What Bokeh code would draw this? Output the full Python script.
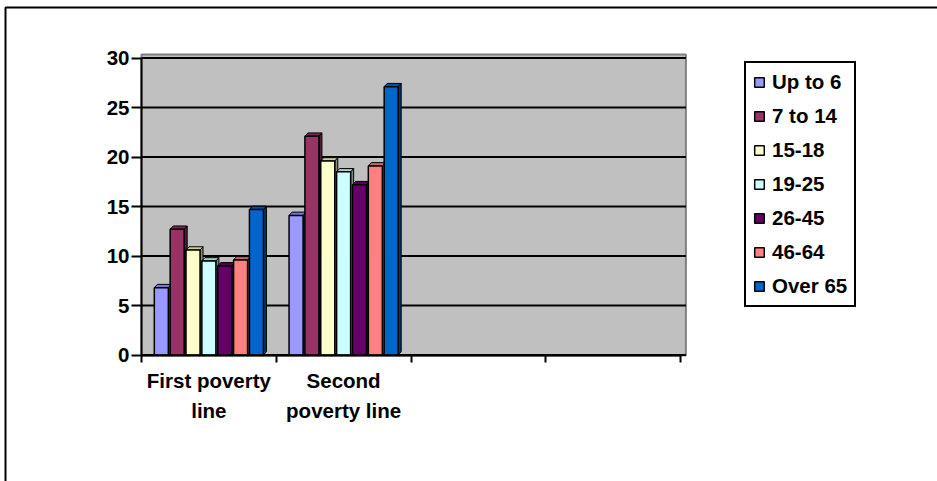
from bokeh.plotting import figure
from bokeh.models import Range1d, FixedTicker, Legend, LegendItem, BoxAnnotation
from bokeh.embed import file_html
from bokeh.resources import INLINE

# ---- data ----
categories = ["First poverty\nline", "Second\npoverty line", "", ""]
series = ["Up to 6", "7 to 14", "15-18", "19-25", "26-45", "46-64", "Over 65"]
first_line = [6.8, 12.7, 10.6, 9.5, 9.0, 9.6, 14.7]
second_line = [14.1, 22.1, 19.6, 18.5, 17.2, 19.1, 27.1]
colors = ["#9999FF", "#993366", "#FFFFCC", "#CCFFFF", "#660066", "#FF8080", "#0066CC"]
y_ticks = [0, 5, 10, 15, 20, 25, 30]

FONT = "Liberation Sans"
FS = "20.5px"

W, H = 937, 481
X0_PX, X_UNIT = 141, 134.75     # pixel of category axis start, pixels per category
Y0_PX, Y_UNIT = 354.5, 9.9      # pixel of value 0, pixels per value unit


def shade(hex_color, f):
    h = hex_color.lstrip("#")
    r, g, b = (int(h[i:i + 2], 16) for i in (0, 2, 4))
    return "#%02x%02x%02x" % (int(r * f), int(g * f), int(b * f))


x_range = Range1d(-X0_PX / X_UNIT, (W - X0_PX) / X_UNIT)
y_range = Range1d(-(H - Y0_PX) / Y_UNIT, Y0_PX / Y_UNIT)

p = figure(width=W, height=H, x_range=x_range, y_range=y_range,
           output_backend="svg", toolbar_location=None,
           min_border=0, min_border_left=0, min_border_right=0,
           min_border_top=0, min_border_bottom=0,
           background_fill_color="white", border_fill_color="white",
           outline_line_color=None)
p.xgrid.visible = False
p.ygrid.visible = False

n_cat = len(categories)
wall_right = n_cat + 0.04
wall_top = 30.35

# back wall
p.quad(left=[0], right=[wall_right], bottom=[-0.05], top=[wall_top],
       fill_color="#C0C0C0", line_color="#808080", line_width=2)
# gridlines on the wall
p.segment(x0=[0] * len(y_ticks), x1=[wall_right] * len(y_ticks), y0=y_ticks, y1=y_ticks,
          line_color="black", line_width=2)

# y axis
p.yaxis.fixed_location = 0
p.yaxis.bounds = (0, 30)
p.yaxis.ticker = FixedTicker(ticks=y_ticks)
p.yaxis.axis_line_width = 2
p.yaxis.major_tick_line_width = 2
p.yaxis.major_tick_out = 10
p.yaxis.major_tick_in = 0
p.yaxis.minor_tick_line_color = None
p.yaxis.major_label_standoff = 2
p.yaxis.major_label_text_font = FONT
p.yaxis.major_label_text_font_style = "bold"
p.yaxis.major_label_text_font_size = FS
p.yaxis.major_label_text_color = "black"

# x axis
label_ticks = [i + 0.5 for i in range(n_cat) if categories[i]]
p.xaxis.fixed_location = 0
p.xaxis.bounds = (0, n_cat)
p.xaxis.ticker = FixedTicker(ticks=label_ticks, minor_ticks=list(range(n_cat + 1)))
p.xaxis.major_label_overrides = {i + 0.5: categories[i] for i in range(n_cat) if categories[i]}
p.xaxis.major_tick_line_color = None
p.xaxis.minor_tick_out = 7
p.xaxis.minor_tick_in = 0
p.xaxis.minor_tick_line_width = 2
p.xaxis.axis_line_width = 2
p.xaxis.major_label_standoff = 7
p.xaxis.major_label_text_font = FONT
p.xaxis.major_label_text_font_style = "bold"
p.xaxis.major_label_text_font_size = FS
p.xaxis.major_label_text_line_height = 1.3
p.xaxis.major_label_text_align = "center"
p.xaxis.major_label_text_color = "black"

# bars (pseudo 3D)
pitch = 1 / 8.5
w = 0.104
dx = 3 / X_UNIT
dy = 3.3 / Y_UNIT
off = (1 - (6 * pitch + w)) / 2
items = []
for j, name in enumerate(series):
    vals = [first_line[j], second_line[j]]
    lefts = [i + off + j * pitch for i in range(len(vals))]
    rights = [l + w for l in lefts]
    side_xs = [[r, r + dx, r + dx, r] for r in rights]
    side_ys = [[0, dy, v + dy, v] for v in vals]
    top_xs = [[l, l + dx, r + dx, r] for l, r in zip(lefts, rights)]
    top_ys = [[v, v + dy, v + dy, v] for v in vals]
    p.patches(side_xs, side_ys, fill_color=shade(colors[j], 0.55), line_color="black", line_width=1)
    p.patches(top_xs, top_ys, fill_color=shade(colors[j], 0.8), line_color="black", line_width=1)
    r = p.quad(left=lefts, right=rights, bottom=[0] * len(vals), top=vals,
               fill_color=colors[j], line_color="black", line_width=1.5)
    items.append(LegendItem(label=name, renderers=[r]))

legend = Legend(items=items, location=(744, H - 307), glyph_width=12, glyph_height=12,
                spacing=10, padding=7, margin=0, label_standoff=7,
                border_line_color="black", border_line_width=2, border_line_alpha=1.0,
                background_fill_color="white", background_fill_alpha=1.0,
                label_text_color="black",
                label_text_font=FONT, label_text_font_style="bold", label_text_font_size=FS)
p.add_layout(legend, "center")

# outer chart frame (extends past the right and bottom edges)
frame_box = BoxAnnotation(left=5, right=3000, top=7, bottom=3000,
                          left_units="canvas", right_units="canvas",
                          top_units="canvas", bottom_units="canvas",
                          fill_alpha=0, line_color="black", line_alpha=1.0, line_width=2)
p.add_layout(frame_box)

open("out.html", "w").write(file_html(p, INLINE))
